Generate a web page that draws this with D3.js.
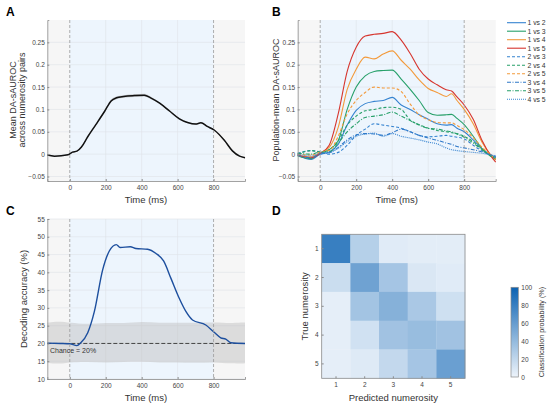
<!DOCTYPE html>
<html>
<head>
<meta charset="utf-8">
<script src="https://cdn.jsdelivr.net/npm/d3@7/dist/d3.min.js"></script>
<style>
  body { margin: 0; background: #fff; }
  svg { font-family: "Liberation Sans", Arial, sans-serif; }
  .tick text { fill: #444; }
</style>
</head>
<body>
<div id="fig"></div>
<script>
// ---- data ----
// panel A: mean DA-sAUROC across pairs
var timeA = [-125,-85,-10,15,40,65,100,145,195,230,260,300,360,415,450,500,555,610,655,700,730,765,805,860,905,945,975];
var meanA = [-0.002,-0.0045,-0.0015,0.0045,0.0067,0.016,0.039,0.066,0.0965,0.119,0.126,0.129,0.131,0.132,0.126,0.114,0.0965,0.079,0.071,0.0675,0.07,0.062,0.0535,0.031,0.0074,-0.0045,-0.008];
var semA  = [0.001,0.001,0.001,0.001,0.001,0.0012,0.0015,0.002,0.0025,0.003,0.003,0.003,0.003,0.003,0.0025,0.002,0.002,0.0018,0.0015,0.0015,0.0015,0.0015,0.0015,0.0012,0.001,0.001,0.001];

// panel B: pairwise curves
var timeB = [-125,-50,0,50,100,150,200,250,300,350,400,450,500,550,600,650,700,730,760,800,850,900,950,975];
var pairNames = ["1 vs 2","1 vs 3","1 vs 4","1 vs 5","2 vs 3","2 vs 4","2 vs 5","3 vs 4","3 vs 5","4 vs 5"];
var pairColors = ["#3583d0","#27a06a","#f39a3b","#d6352e","#3583d0","#27a06a","#f39a3b","#2f78c8","#27a06a","#3583d0"];
var pairDash = ["","","","","3,2","3,2","3,2","4,1.5,1,1.5","4,1.5,1,1.5","1,1"];
var v1v2 = [-0.002,-0.012,0.0,0.005,0.022,0.065,0.098,0.113,0.118,0.12,0.127,0.11,0.1,0.088,0.078,0.068,0.065,0.066,0.058,0.05,0.032,0.012,-0.002,-0.008];
var v1v3 = [-0.004,-0.01,0.002,0.01,0.03,0.1,0.15,0.175,0.185,0.187,0.188,0.168,0.145,0.12,0.093,0.087,0.088,0.089,0.08,0.066,0.04,0.012,-0.005,-0.012];
var v1v4 = [-0.003,-0.006,0.003,0.015,0.06,0.145,0.19,0.217,0.213,0.224,0.231,0.21,0.19,0.166,0.147,0.138,0.129,0.135,0.12,0.1,0.068,0.026,-0.003,-0.013];
var v1v5 = [-0.002,-0.008,0.002,0.02,0.09,0.185,0.239,0.264,0.268,0.27,0.274,0.255,0.225,0.19,0.168,0.155,0.144,0.141,0.128,0.11,0.078,0.03,-0.005,-0.018];
var v2v3 = [0.002,0.008,0.005,0.0,0.004,0.02,0.042,0.056,0.068,0.065,0.062,0.058,0.05,0.042,0.039,0.04,0.042,0.04,0.038,0.034,0.02,0.007,-0.003,-0.006];
var v2v4 = [0.0,0.008,0.005,0.01,0.03,0.065,0.085,0.097,0.1,0.104,0.105,0.1,0.076,0.066,0.058,0.053,0.05,0.048,0.046,0.04,0.028,0.01,-0.005,-0.01];
var v2v5 = [0.0,-0.002,0.005,0.008,0.04,0.09,0.12,0.138,0.15,0.148,0.148,0.14,0.112,0.088,0.077,0.071,0.07,0.07,0.064,0.055,0.037,0.015,-0.002,-0.01];
var v3v4 = [-0.003,-0.008,0.0,0.003,0.015,0.032,0.043,0.046,0.045,0.042,0.048,0.056,0.05,0.042,0.036,0.031,0.025,0.022,0.017,0.014,0.01,0.005,-0.002,-0.005];
var v3v5 = [0.002,0.0,0.005,0.005,0.025,0.05,0.068,0.082,0.085,0.088,0.094,0.085,0.075,0.065,0.058,0.056,0.052,0.05,0.045,0.038,0.025,0.01,-0.004,-0.008];
var v4v5 = [0.0,-0.004,0.002,0.004,0.013,0.028,0.04,0.045,0.047,0.04,0.046,0.04,0.036,0.032,0.027,0.023,0.014,0.01,0.008,0.006,0.004,0.002,-0.002,-0.004];
var pairValues = [v1v2,v1v3,v1v4,v1v5,v2v3,v2v4,v2v5,v3v4,v3v5,v4v5];

// panel C: decoding accuracy
var timeC = [-125,-50,0,40,60,100,137,183,220,259,280,337,368,433,480,522,563,609,646,683,757,800,840,868,896,975];
var accC  = [20.1,20,19.9,19.4,20.1,23,29,40.7,46,47.8,47,47.2,46.7,46.5,45.3,43.2,38.3,32.7,29,26.6,25.2,23.3,21.6,21.2,20.2,20];
var timeBand = [-125,-60,0,100,200,300,400,500,600,700,800,900,975];
var bandLo = [14.6,14.2,14.7,14.9,14.5,14.8,14.9,14.6,14.7,14.5,14.8,14.3,14.4];
var bandHi = [25.8,26.3,25.8,25.4,25.9,25.6,26.2,25.7,25.9,25.8,26.0,25.7,25.9];
var chance = 20;

// panel D: confusion matrix (% of trials)
var numerosities = [1,2,3,4,5];
var confRows = [
  [80,25,6,5,5],
  [16,56,32,9,6],
  [4,33,46,30,14],
  [4,13,34,38,34],
  [4,7,19,32,58]
];
var cbarTicks = [0,20,40,60,80,100];

var timeTicks = [0,200,400,600,800];
var aucTicks = [-0.05,0,0.05,0.1,0.15,0.2,0.25];
var accTicks = [10,15,20,25,30,35,40,45,50,55];

// ---- figure ----
var W = 550, H = 407;
var svg = d3.select("#fig").append("svg").attr("width", W).attr("height", H);

var fmtAuc = function(d) { return d === 0 ? "0" : (d < 0 ? "\u2212" : "") + d3.format("~g")(Math.abs(d)); };

function timePanel(box, yDomain, yTicks, yFmt) {
  var x = d3.scaleLinear().domain([-125, 975]).range([box.x0, box.x1]);
  var y = d3.scaleLinear().domain(yDomain).range([box.y1, box.y0]);
  var g = svg.append("g");
  // backgrounds
  g.append("rect").attr("x", box.x0).attr("y", box.y0)
    .attr("width", box.x1 - box.x0).attr("height", box.y1 - box.y0).attr("fill", "#f6f6f6");
  g.append("rect").attr("x", x(0)).attr("y", box.y0)
    .attr("width", x(800) - x(0)).attr("height", box.y1 - box.y0).attr("fill", "#edf5fd");
  // grid
  g.selectAll(".hg").data(yTicks).enter().append("line")
    .attr("x1", box.x0).attr("x2", box.x1)
    .attr("y1", d => y(d)).attr("y2", d => y(d))
    .attr("stroke", "#dfe3e8").attr("stroke-width", 0.6);
  g.selectAll(".vg").data([200,400,600]).enter().append("line")
    .attr("x1", d => x(d)).attr("x2", d => x(d))
    .attr("y1", box.y0).attr("y2", box.y1)
    .attr("stroke", "#dfe3e8").attr("stroke-width", 0.6);
  var content = svg.append("g");
  var over = svg.append("g");
  // event lines
  over.selectAll(".ev").data([0,800]).enter().append("line")
    .attr("x1", d => x(d)).attr("x2", d => x(d))
    .attr("y1", box.y0).attr("y2", box.y1)
    .attr("stroke", "#9a9a9a").attr("stroke-width", 0.8).attr("stroke-dasharray", "3,2");
  // axes
  var ax = over.append("g").attr("transform", "translate(0," + box.y1 + ")")
    .call(d3.axisBottom(x).tickValues(timeTicks).tickSize(-2).tickPadding(4));
  var ay = over.append("g").attr("transform", "translate(" + box.x0 + ",0)")
    .call(d3.axisLeft(y).tickValues(yTicks).tickFormat(yFmt).tickSize(-2).tickPadding(2.5));
  [ax, ay].forEach(function(a) {
    a.select(".domain").attr("stroke", "#8a8a8a").attr("stroke-width", 0.8);
    a.selectAll(".tick line").attr("stroke", "#8a8a8a");
    a.selectAll(".tick text").attr("font-size", 6.5).attr("fill", "#444");
    a.attr("font-family", null);
  });
  return { x: x, y: y, g: content, over: over };
}

function label(t, xx, yy, size, opts) {
  opts = opts || {};
  var el = svg.append("text").attr("x", xx).attr("y", yy).text(t)
    .attr("font-size", size).attr("fill", opts.fill || "#333")
    .attr("text-anchor", opts.anchor || "middle");
  if (opts.bold) el.attr("font-weight", "bold");
  if (opts.rot) el.attr("transform", "rotate(-90," + xx + "," + yy + ")");
  return el;
}

// ---- Panel A ----
var pA = timePanel({x0: 47.3, x1: 245, y0: 20, y1: 181}, [-0.06, 0.3], aucTicks, fmtAuc);
var dataA = timeA.map((t, i) => ({t: t, v: meanA[i], s: semA[i]}));
pA.g.append("path").datum(dataA)
  .attr("d", d3.area().x(d => pA.x(d.t)).y0(d => pA.y(d.v - d.s)).y1(d => pA.y(d.v + d.s)).curve(d3.curveMonotoneX))
  .attr("fill", "#aaaaaa").attr("opacity", 0.6);
pA.g.append("path").datum(dataA)
  .attr("d", d3.line().x(d => pA.x(d.t)).y(d => pA.y(d.v)).curve(d3.curveMonotoneX))
  .attr("fill", "none").attr("stroke", "#111").attr("stroke-width", 1.5);
label("Time (ms)", 146, 202.5, 9.5);
label("Mean DA-sAUROC", 15.5, 100, 9, {rot: true});
label("across numerosity pairs", 24.5, 100, 9, {rot: true});
label("A", 6, 16, 12, {bold: true, anchor: "start", fill: "#000"});

// ---- Panel B ----
var pB = timePanel({x0: 297.7, x1: 495.7, y0: 20, y1: 181}, [-0.06, 0.3], aucTicks, fmtAuc);
var lineB = d3.line().x((d, i) => pB.x(timeB[i])).y(d => pB.y(d)).curve(d3.curveMonotoneX);
pairValues.forEach(function(vals, k) {
  pB.g.append("path").datum(vals).attr("d", lineB)
    .attr("fill", "none").attr("stroke", pairColors[k]).attr("stroke-width", 1.1)
    .attr("stroke-dasharray", pairDash[k] || null);
});
label("Time (ms)", 396.7, 202.5, 9.5);
label("Population-mean DA-sAUROC", 279, 100, 9, {rot: true});
label("B", 272, 16, 12, {bold: true, anchor: "start", fill: "#000"});
// legend
var lg = svg.append("g");
pairNames.forEach(function(n, k) {
  var yy = 22.7 + k * 8.5;
  lg.append("line").attr("x1", 507).attr("x2", 526).attr("y1", yy).attr("y2", yy)
    .attr("stroke", pairColors[k]).attr("stroke-width", 1.1)
    .attr("stroke-dasharray", pairDash[k] || null);
  lg.append("text").attr("x", 527.5).attr("y", yy + 2.4).text(n)
    .attr("font-size", 6.8).attr("fill", "#333");
});

// ---- Panel C ----
var pC = timePanel({x0: 47.3, x1: 245, y0: 219, y1: 379}, [10, 55], accTicks, d3.format("d"));
var bandData = timeBand.map((t, i) => ({t: t, lo: bandLo[i], hi: bandHi[i]}));
pC.g.append("path").datum(bandData)
  .attr("d", d3.area().x(d => pC.x(d.t)).y0(d => pC.y(d.lo)).y1(d => pC.y(d.hi)).curve(d3.curveBasis))
  .attr("fill", "#bdbdbd").attr("opacity", 0.45);
pC.g.append("line").attr("x1", pC.x(-125)).attr("x2", pC.x(975))
  .attr("y1", pC.y(chance)).attr("y2", pC.y(chance))
  .attr("stroke", "#333").attr("stroke-width", 0.9).attr("stroke-dasharray", "4,2");
pC.g.append("path").datum(accC)
  .attr("d", d3.line().x((d, i) => pC.x(timeC[i])).y(d => pC.y(d)).curve(d3.curveMonotoneX))
  .attr("fill", "none").attr("stroke", "#1d4f9e").attr("stroke-width", 1.4);
label("Chance = " + chance + "%", 50, 353, 7, {anchor: "start", fill: "#333"});
label("Time (ms)", 146, 400.5, 9.5);
label("Decoding accuracy (%)", 27, 299, 9.5, {rot: true});
label("C", 6, 215, 12, {bold: true, anchor: "start", fill: "#000"});

// ---- Panel D ----
var color = d3.scaleLinear().domain([0, 100]).range(["#eef4fb", "#0b62b2"]);
var hx = d3.scaleBand().domain(numerosities).range([321.7, 465]);
var hy = d3.scaleBand().domain(numerosities).range([234.3, 378.3]);
var cells = [];
confRows.forEach((row, i) => row.forEach((v, j) => cells.push({r: numerosities[i], c: numerosities[j], v: v})));
svg.append("g").selectAll("rect").data(cells).enter().append("rect")
  .attr("x", d => hx(d.c)).attr("y", d => hy(d.r))
  .attr("width", hx.bandwidth() + 0.3).attr("height", hy.bandwidth() + 0.3)
  .attr("fill", d => color(d.v));
svg.append("rect").attr("x", 321.7).attr("y", 234.3).attr("width", 465 - 321.7).attr("height", 378.3 - 234.3)
  .attr("fill", "none").attr("stroke", "#8a8a8a").attr("stroke-width", 0.8);
var dax = svg.append("g").attr("transform", "translate(0,378.3)")
  .call(d3.axisBottom(hx).tickSize(-2).tickPadding(4));
var day = svg.append("g").attr("transform", "translate(321.7,0)")
  .call(d3.axisLeft(hy).tickSize(-2).tickPadding(3));
[dax, day].forEach(function(a) {
  a.select(".domain").remove();
  a.selectAll(".tick line").attr("stroke", "#8a8a8a");
  a.selectAll(".tick text").attr("font-size", 6.5).attr("fill", "#444");
  a.attr("font-family", null);
});
label("Predicted numerosity", 393.3, 400.5, 9.5);
label("True numerosity", 308, 306.3, 9.5, {rot: true});
label("D", 272, 215, 12, {bold: true, anchor: "start", fill: "#000"});

// colorbar
var defs = svg.append("defs");
var grad = defs.append("linearGradient").attr("id", "cb").attr("x1", 0).attr("x2", 0).attr("y1", 1).attr("y2", 0);
cbarTicks.forEach(function(v) {
  grad.append("stop").attr("offset", v / 100).attr("stop-color", color(v));
});
var cy = d3.scaleLinear().domain([0, 100]).range([377, 287.3]);
svg.append("rect").attr("x", 511).attr("y", 287.3).attr("width", 7.3).attr("height", 377 - 287.3)
  .attr("fill", "url(#cb)").attr("stroke", "#8a8a8a").attr("stroke-width", 0.7);
var cax = svg.append("g").attr("transform", "translate(518.3,0)")
  .call(d3.axisRight(cy).tickValues(cbarTicks).tickSize(0).tickPadding(3));
cax.select(".domain").remove();
cax.selectAll(".tick text").attr("font-size", 6.5).attr("fill", "#444");
cax.attr("font-family", null);
label("Classification probability (%)", 544, 332, 7.2, {rot: true});
</script>
</body>
</html>
